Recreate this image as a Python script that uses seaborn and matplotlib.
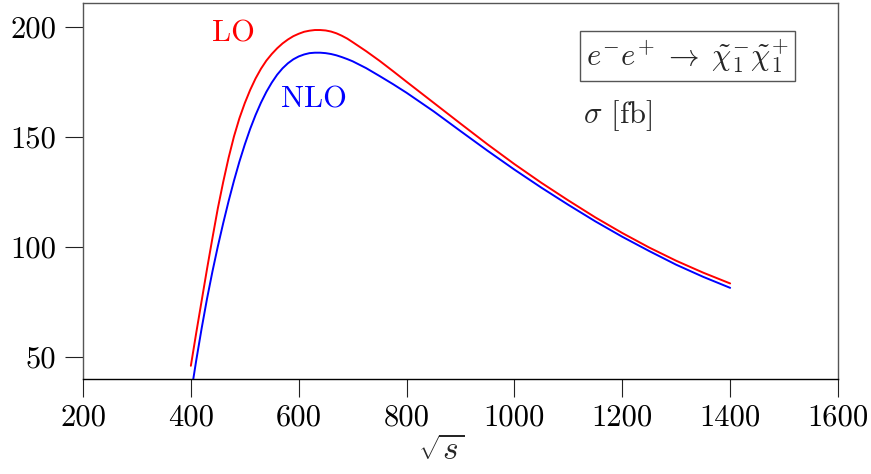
import matplotlib
matplotlib.use("Agg")
import matplotlib.pyplot as plt
import seaborn as sns
import pandas as pd

# sqrt(s) sample points and cross sections [fb]
sqrt_s = [400, 410, 420, 430, 440, 450, 460, 470, 480, 490, 500, 510, 520, 530,
          540, 550, 560, 570, 580, 590, 600, 610, 620, 630, 640, 650, 660, 670,
          680, 690, 700, 725, 750, 775, 800, 850, 900, 950, 1000, 1050, 1100,
          1150, 1200, 1250, 1300, 1350, 1400]
sigma_lo = [46, 61, 75.5, 90, 104, 117.5, 129.5, 140.5, 150.2, 158.4, 165.3, 171.3,
            176.5, 180.9, 184.6, 187.6, 190.2, 192.4, 194.2, 195.7, 196.8, 197.7,
            198.2, 198.5, 198.5, 198.3, 197.8, 197.0, 195.9, 194.6, 193, 188.9,
            184.5, 179.8, 175, 165.5, 156, 146.6, 137.6, 129.1, 121.1, 113.4, 106.3,
            99.7, 93.7, 88.3, 83.4]
sigma_nlo = [33, 48.5, 63, 76.5, 88.8, 100.2, 110.8, 120.8, 130.1, 138.7, 146.5,
             153.6, 159.9, 165.5, 170.4, 174.6, 178.2, 181.1, 183.4, 185.2, 186.5,
             187.4, 188.0, 188.2, 188.2, 188.0, 187.6, 187.0, 186.2, 185.3, 184.3,
             181.2, 177.6, 173.9, 170, 161.6, 152.6, 143.7, 135.1, 126.9, 119.1,
             111.6, 104.6, 98.1, 91.9, 86.4, 81.4]
x_ticks = [200, 400, 600, 800, 1000, 1200, 1400, 1600]
y_ticks = [50, 100, 150, 200]

df = pd.DataFrame({
    "sqrt_s": sqrt_s * 2,
    "sigma": sigma_lo + sigma_nlo,
    "order": ["LO"] * len(sqrt_s) + ["NLO"] * len(sqrt_s),
})

sns.set_style("ticks")
plt.rcParams["font.family"] = ["cmr10", "DejaVu Serif"]
plt.rcParams["mathtext.fontset"] = "cm"
plt.rcParams["axes.unicode_minus"] = False
plt.rcParams["axes.formatter.use_mathtext"] = True

fig = plt.figure(figsize=(8.71, 4.74), dpi=100)
ax = fig.add_axes([83 / 871, 1 - 379 / 474, 755 / 871, 376.5 / 474])

sns.lineplot(data=df, x="sqrt_s", y="sigma", hue="order",
             palette={"LO": "#ff0000", "NLO": "#0000ff"},
             linewidth=1.4, legend=False, ax=ax, sort=False,
             solid_joinstyle="round")

ax.set_xlim(200, 1600)
ax.set_ylim(40, 211)
ax.set_xticks(x_ticks)
ax.set_yticks(y_ticks)
ax.set_xticklabels([str(t) for t in x_ticks])
ax.set_yticklabels([str(t) for t in y_ticks])
ax.tick_params(axis="both", direction="out", length=13.2, width=0.8,
               labelsize=22, colors="#222222", labelcolor="black")
ax.tick_params(axis="y", pad=6)
ax.tick_params(axis="x", pad=5)

for side in ["top", "left", "right"]:
    ax.spines[side].set_color("#555555")
    ax.spines[side].set_linewidth(1.0)
ax.spines["bottom"].set_color("black")
ax.spines["bottom"].set_linewidth(1.0)

ax.set_ylabel("")
ax.set_xlabel(r"$\sqrt{s}$", fontsize=24)
ax.xaxis.set_label_coords((441 - 83) / 755, -0.15)

ax.text(479, 196.9, "LO", color="#ff0000", fontsize=22, ha="center", va="center")
ax.text(628, 167, "NLO", color="#0000ff", fontsize=22, ha="center", va="center")

ax.text(0.801, 0.858,
        r"$e^{-}e^{+}\;\rightarrow\;\tilde{\chi}_1^{-}\tilde{\chi}_1^{+}$",
        transform=ax.transAxes, fontsize=22, ha="center", va="center",
        bbox=dict(boxstyle="square,pad=0.2", facecolor="white",
                  edgecolor="#555555", linewidth=1.0))
ax.text(0.662, 0.699, r"$\sigma$ [fb]", transform=ax.transAxes, fontsize=22,
        ha="left", va="center")

fig.savefig("out.png", dpi=100)
